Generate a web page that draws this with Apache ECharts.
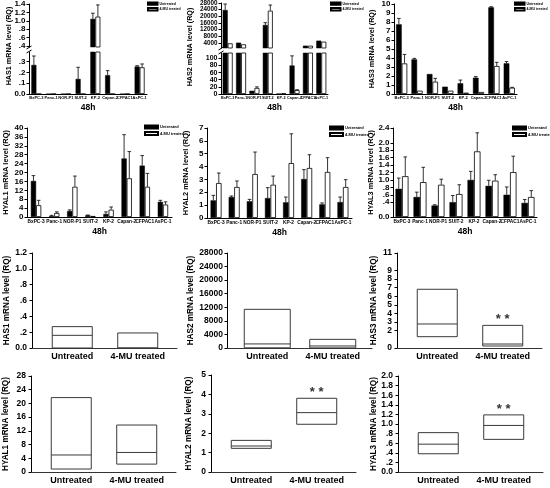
<!DOCTYPE html>
<html><head><meta charset="utf-8">
<script src="https://cdn.jsdelivr.net/npm/echarts@6/dist/echarts.min.js"></script>
<style>html,body{margin:0;padding:0;background:#fff}#c{width:550px;height:488px}</style>
</head><body><div id="c"></div>
<script>
// ---------- DATA ----------
const cellLines = ['BxPC-3','Panc-1','NOR-P1','SUIT-2','KP-2','Capan-2','CFPAC1','AsPC-1'];
const groups = ['Untreated', '4-MU treated'];

const has1Untreated = [0.27, 0, 0, 0.14, 1.045, 0.175, 0, 0.255];
const has1UntreatedSD = [0.083, 0, 0, 0.108, 0.135, 0.042, 0, 0.008];
const has1Treated = [0, 0, 0, 0, 1.10, 0, 0, 0.248];
const has1TreatedSD = [0, 0, 0, 0, 0.278, 0, 0, 0.031];

const has2Untreated = [23800, 4200, 9, 14800, 1, 80, 2400, 5400];
const has2UntreatedSD = [3600, 0, 0, 1400, 0, 27, 0, 0];
const has2Treated = [3800, 3200, 17, 23400, 1.5, 11, 2400, 4800];
const has2TreatedSD = [0, 0, 3, 3400, 0, 1, 0, 0];

const has3Untreated = [7.74, 3.85, 2.22, 0.81, 1.19, 1.81, 9.63, 3.41];
const has3UntreatedSD = [0.66, 0.11, 0, 0, 0.36, 0.12, 0.07, 0.19];
const has3Treated = [3.4, 0.37, 1.37, 0.37, 0.15, 0.22, 3.11, 0.7];
const has3TreatedSD = [1.0, 0, 0.37, 0, 0, 0, 0.41, 0.04];

const hyal1Untreated = [16.2, 0.45, 2.7, 0.75, 1.35, 26.3, 23.1, 6.8];
const hyal1UntreatedSD = [2.4, 0.3, 0.5, 0.15, 0.95, 10.7, 4.5, 0.7];
const hyal1Treated = [5.3, 1.8, 13.6, 0.45, 3.3, 17.4, 13.6, 5.6];
const hyal1TreatedSD = [2.2, 0.5, 4.8, 0, 1.2, 12.0, 6.0, 1.2];

const hyal2Untreated = [1.37, 1.63, 1.3, 1.55, 1.22, 3.03, 1.06, 1.24];
const hyal2UntreatedSD = [0.39, 0.08, 0.15, 0.81, 0.41, 0.73, 0.11, 0.39];
const hyal2Treated = [2.72, 2.41, 3.42, 2.59, 4.27, 3.89, 3.58, 2.41];
const hyal2TreatedSD = [0.78, 0.47, 1.71, 0.67, 2.28, 1.03, 1.11, 0.57];

const hyal3Untreated = [0.76, 0.54, 0.31, 0.40, 1.0, 0.84, 0.60, 0.38];
const hyal3UntreatedSD = [0.29, 0.13, 0.02, 0.18, 0.23, 0.15, 0.21, 0.09];
const hyal3Treated = [1.10, 0.94, 0.87, 0.62, 1.77, 0.98, 1.21, 0.54];
const hyal3TreatedSD = [0.52, 0.40, 0.15, 0.25, 0.50, 0.16, 0.43, 0.17];

// box summaries: [q1, median, q3]
const has1Box = { untreated: [0, 0.16, 0.27], treated: [0, 0, 0.19], sig: false };
const has2Box = { untreated: [50, 1200, 11400], treated: [30, 600, 2550], sig: false };
const has3Box = { untreated: [1.31, 2.78, 6.8], treated: [0.23, 0.46, 2.62], sig: true };
const hyal1Box = { untreated: [0.87, 4.96, 21.7], treated: [2.3, 5.7, 13.7], sig: false };
const hyal2Box = { untreated: [1.22, 1.34, 1.63], treated: [2.46, 3.06, 3.8], sig: true };
const hyal3Box = { untreated: [0.38, 0.58, 0.82], treated: [0.68, 0.97, 1.19], sig: true };

// ---------- BUILD ----------
const FONT = '"Liberation Sans", Arial, sans-serif';
const grids = [], xAxes = [], yAxes = [], series = [], legends = [], graphics = [];
function fmt(dec) {
  return v => {
    if (dec === 0) return String(Math.round(v));
    let s = (+v).toFixed(dec);
    if (v > 0 && v < 1) s = s.slice(1);
    return s;
  };
}
function txt(size) { return { fontFamily: FONT, fontWeight: 'bold', color: '#000', fontSize: size }; }

function makeY(gi, p) {
  const ya = {
    gridIndex: gi, type: 'value', min: p.min, max: p.max,
    axisLine: { show: true, onZero: false, lineStyle: { color: '#000', width: 1 } },
    axisTick: { show: true, length: 2.5, lineStyle: { color: '#000', width: 1 } },
    splitLine: { show: false },
    axisLabel: Object.assign(txt(p.fs), { margin: p.labelMargin || 3.5, formatter: fmt(p.dec),
      showMinLabel: true, showMaxLabel: true, hideOverlap: false })
  };
  if (p.interval) ya.interval = p.interval;
  if (p.labels) { ya.axisLabel.customValues = p.labels; ya.axisTick.customValues = p.labels; }
  if (p.title) {
    ya.name = p.title; ya.nameLocation = 'middle'; ya.nameGap = p.nameGap;
    ya.nameTextStyle = txt(p.titleFs);
  }
  return ya;
}

function errSeries(gi, vals, sds, side, bw, cap) {
  return {
    type: 'custom', xAxisIndex: gi, yAxisIndex: gi, clip: true, silent: true, z: 5,
    data: vals.map((v, i) => [i, v, sds[i]]),
    renderItem: (params, api) => {
      const i = api.value(0), v = api.value(1), e = api.value(2);
      if (!(e > 0)) return null;
      const p0 = api.coord([i, v]), p1 = api.coord([i, v + e]);
      const x = p0[0] + side * bw / 2;
      const st = { stroke: '#000', lineWidth: 0.8 };
      return { type: 'group', children: [
        { type: 'line', shape: { x1: x, y1: p0[1], x2: x, y2: p1[1] }, style: st },
        { type: 'line', shape: { x1: x - cap, y1: p1[1], x2: x + cap, y2: p1[1] }, style: st }
      ] };
    }
  };
}

function addBarGrid(p, u, su, t, st) {
  const gi = grids.length;
  grids.push({ left: p.left, top: p.top, width: p.width, height: p.height });
  xAxes.push({
    gridIndex: gi, type: 'category', data: cellLines, show: p.showX !== false,
    axisLine: { lineStyle: { color: '#000', width: 1 } }, axisTick: { show: false },
    axisLabel: Object.assign(txt(p.catFs), { interval: 0, margin: 2, hideOverlap: false }),
    name: p.xName || '', nameLocation: 'middle', nameGap: p.xNameGap || 10,
    nameTextStyle: txt(8.5)
  });
  yAxes.push(makeY(gi, p));
  series.push({ type: 'bar', name: groups[0], xAxisIndex: gi, yAxisIndex: gi, data: u, clip: true,
    barWidth: p.bw, barGap: '0%', itemStyle: { color: '#000', borderColor: '#000', borderWidth: 0.5 } });
  series.push({ type: 'bar', name: groups[1], xAxisIndex: gi, yAxisIndex: gi, data: t, clip: true,
    barWidth: p.bw, barGap: '0%', itemStyle: { color: '#fff', borderColor: '#000', borderWidth: 0.8 } });
  series.push(errSeries(gi, u, su, -1, p.bw, p.cap || 1.8));
  series.push(errSeries(gi, t, st, 1, p.bw, p.cap || 1.8));
  return gi;
}

function addLegend(left, top, w, h, gap, fs) {
  legends.push({ left: left, top: top, orient: 'vertical', padding: 0, itemGap: gap,
    itemWidth: w, itemHeight: h, selectedMode: false, icon: 'rect',
    textStyle: Object.assign(txt(fs), { padding: [0, 0, 0, -3] }), data: groups });
}

function addBoxGrid(p, box) {
  const gi = grids.length;
  grids.push({ left: p.left, top: p.top, width: 145, height: p.height });
  xAxes.push({
    gridIndex: gi, type: 'value', min: 0.385, max: 2.6,
    axisLine: { onZero: false, lineStyle: { color: '#333', width: 1 } }, axisTick: { show: false },
    splitLine: { show: false },
    axisLabel: Object.assign(txt(9), { margin: 4, customValues: [1, 2], formatter: v => groups[Math.round(v) - 1] })
  });
  yAxes.push(makeY(gi, p));
  const bw = p.boxW || 40;
  series.push({
    type: 'custom', xAxisIndex: gi, yAxisIndex: gi, silent: true,
    encode: { x: 0, y: [1, 2, 3] },
    data: [[1].concat(box.untreated, [0]), [2].concat(box.treated, [box.sig ? 1 : 0])],
    renderItem: (params, api) => {
      const x = api.value(0), q1 = api.value(1), med = api.value(2), q3 = api.value(3), sig = api.value(4);
      const pt = api.coord([x, q3]), pb = api.coord([x, q1]), pm = api.coord([x, med]);
      const st = { stroke: '#3a3a3a', lineWidth: 1, fill: '#fff' };
      const ch = [
        { type: 'rect', shape: { x: pt[0] - bw / 2, y: pt[1], width: bw, height: pb[1] - pt[1] }, style: st },
        { type: 'line', shape: { x1: pt[0] - bw / 2, y1: pm[1], x2: pt[0] + bw / 2, y2: pm[1] }, style: { stroke: '#3a3a3a', lineWidth: 1 } }
      ];
      if (sig) ch.push({ type: 'text', x: pt[0], y: pt[1] + 1, style: { text: '* *', fontFamily: FONT, fontWeight: 'bold', fontSize: 13, fill: '#333', align: 'center', verticalAlign: 'bottom' } });
      return { type: 'group', children: ch };
    }
  });
}

function vTitle(text, x, y, fs) {
  graphics.push({ type: 'text', x: x, y: y, rotation: Math.PI / 2,
    style: { text: text, fontFamily: FONT, fontWeight: 'bold', fontSize: fs, fill: '#000', align: 'center', verticalAlign: 'middle' } });
}
function breakMark(x, yTop, yBot) {
  const st = { stroke: '#000', lineWidth: 1 };
  graphics.push({ type: 'line', shape: { x1: x - 2.5, y1: yTop + 1.5, x2: x + 2.5, y2: yTop - 1.5 }, style: st });
  graphics.push({ type: 'line', shape: { x1: x - 2.5, y1: yBot + 1.5, x2: x + 2.5, y2: yBot - 1.5 }, style: st });
}

// ---- Row 1 ----
// HAS1 (broken axis)
addBarGrid({ left: 29, top: 4, width: 118, height: 43, min: 0.375, max: 1.4, labels: [0.4, 0.6, 0.8, 1.0, 1.2, 1.4], dec: 1, fs: 8, showX: false, bw: 5, catFs: 4 },
  has1Untreated, has1UntreatedSD, has1Treated, has1TreatedSD);
addBarGrid({ left: 29, top: 52, width: 118, height: 42, min: 0, max: 0.39, labels: [0, 0.1, 0.2, 0.3], dec: 1, fs: 8, bw: 5, catFs: 4, xName: '48h', xNameGap: 9.5 },
  has1Untreated, has1UntreatedSD, has1Treated, has1TreatedSD);
vTitle('HAS1 mRNA level (RQ)', 9, 46, 7.2);
breakMark(29, 47.5, 51.5);
addLegend(147, 1.5, 9.5, 2.3, 1.3, 3.5);

// HAS2 (broken axis)
addBarGrid({ left: 221, top: 3, width: 107, height: 45, min: 1000, max: 28000, labels: [4000, 8000, 12000, 16000, 20000, 24000, 28000], dec: 0, fs: 6.3, showX: false, bw: 5, catFs: 3.8 },
  has2Untreated, has2UntreatedSD, has2Treated, has2TreatedSD);
addBarGrid({ left: 221, top: 53, width: 107, height: 41, min: 0, max: 115, labels: [0, 20, 40, 60, 80, 100], dec: 0, fs: 7, bw: 5, catFs: 3.8, xName: '48h', xNameGap: 9.5 },
  has2Untreated, has2UntreatedSD, has2Treated, has2TreatedSD);
vTitle('HAS2 mRNA level (RQ)', 190, 47, 7.2);
breakMark(221, 48.5, 52.5);
addLegend(330, 1.5, 9.5, 2.3, 1.3, 3.5);

// HAS3
addBarGrid({ left: 394, top: 4, width: 123, height: 90, min: 0, max: 10, interval: 1, dec: 0, fs: 8, bw: 5.6, catFs: 4, xName: '48h', xNameGap: 9.5,
  title: 'HAS3 mRNA level (RQ)', titleFs: 7.2, nameGap: 18.5 },
  has3Untreated, has3UntreatedSD, has3Treated, has3TreatedSD);
addLegend(514, 1.5, 9.5, 2.3, 1.3, 3.5);

// ---- Row 2 ----
addBarGrid({ left: 27, top: 128, width: 145, height: 89, min: 0, max: 40, interval: 4, dec: 0, fs: 8, bw: 5.2, catFs: 4.8, xName: '48h', xNameGap: 10.5,
  title: 'HYAL1 mRNA level (RQ)', titleFs: 7.4, nameGap: 17.5 },
  hyal1Untreated, hyal1UntreatedSD, hyal1Treated, hyal1TreatedSD);
addLegend(144, 124.5, 13, 3, 1.5, 4);

addBarGrid({ left: 207, top: 128, width: 145, height: 90, min: 0, max: 7, interval: 1, dec: 0, fs: 8, bw: 5.5, catFs: 4.8, xName: '48h', xNameGap: 10.5,
  title: 'HYAL2 mRNA level (RQ)', titleFs: 7.4, nameGap: 17.5 },
  hyal2Untreated, hyal2UntreatedSD, hyal2Treated, hyal2TreatedSD);
addLegend(329, 125.5, 13, 3, 1.5, 4);

addBarGrid({ left: 393, top: 128, width: 144, height: 89, min: 0, max: 2.4, interval: 0.2, dec: 1, fs: 8, bw: 6.5, catFs: 4.8, xName: '48h', xNameGap: 10.5,
  title: 'HYAL3 mRNA level (RQ)', titleFs: 7.4, nameGap: 17.5 },
  hyal3Untreated, hyal3UntreatedSD, hyal3Treated, hyal3TreatedSD);
addLegend(512, 125.5, 13, 3, 1.5, 4);

// ---- Row 3 (box summaries) ----
addBoxGrid({ left: 32, top: 253, height: 95, min: 0, max: 1.2, interval: 0.2, dec: 1, fs: 8.5, labelMargin: 5,
  title: 'HAS1 mRNA level (RQ)', titleFs: 8.2, nameGap: 20.8 }, has1Box);
addBoxGrid({ left: 227, top: 253, height: 95, min: 0, max: 28000, interval: 4000, dec: 0, fs: 8.5, labelMargin: 4,
  title: 'HAS2 mRNA level (RQ)', titleFs: 8.2, nameGap: 32, boxW: 46 }, has2Box);
addBoxGrid({ left: 397, top: 253, height: 95, min: 0, max: 11, interval: 1, dec: 0, fs: 8.5, labelMargin: 5,
  title: 'HAS3 mRNA level (RQ)', titleFs: 8.2, nameGap: 19 }, has3Box);

// ---- Row 4 ----
addBoxGrid({ left: 31, top: 376, height: 96, min: 0, max: 28, interval: 4, dec: 0, fs: 8.5, labelMargin: 5,
  title: 'HYAL1 mRNA level (RQ)', titleFs: 8.2, nameGap: 20.8 }, hyal1Box);
addBoxGrid({ left: 211, top: 375, height: 97, min: 0, max: 5, interval: 1, dec: 0, fs: 8.5, labelMargin: 5,
  title: 'HYAL2 mRNA level (RQ)', titleFs: 8.2, nameGap: 17.8 }, hyal2Box);
addBoxGrid({ left: 398, top: 376, height: 96, min: 0, max: 2.0, interval: 0.2, dec: 1, fs: 8.5, labelMargin: 5,
  title: 'HYAL3 mRNA level (RQ)', titleFs: 8.2, nameGap: 19.8 }, hyal3Box);

const chart = echarts.init(document.getElementById('c'), null, { renderer: 'canvas' });
chart.setOption({
  animation: false,
  backgroundColor: '#fff',
  grid: grids, xAxis: xAxes, yAxis: yAxes, series: series, legend: legends, graphic: graphics
});
</script></body></html>
